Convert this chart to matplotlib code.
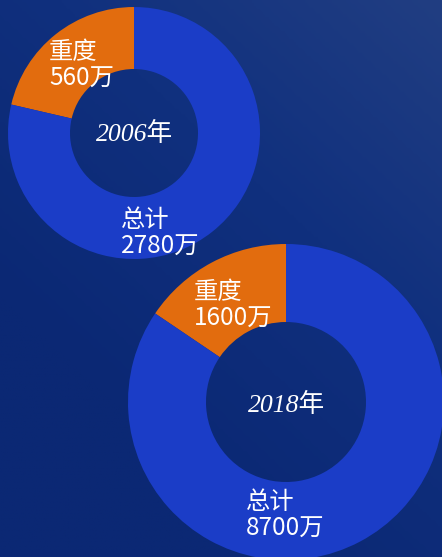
import matplotlib
matplotlib.use("Agg")
import matplotlib.pyplot as plt
import numpy as np
from matplotlib.colors import LinearSegmentedColormap

# ---- data ----
years = ["2006年", "2018年"]
severe = [560, 1600]            # 重度 (万)
total = [2780, 8700]            # 总计 (万)
slice_severe = [560, 1600]
slice_other = [2060, 8700]
label_severe = "重度"
label_total = "总计"

W, H = 442, 557
fig = plt.figure(figsize=(W / 100, H / 100), dpi=100)

# background gradient (lighter at top-right, darker at bottom-left)
bg = fig.add_axes([0, 0, 1, 1])
bg.set_axis_off()
yy, xx = np.mgrid[0:1:200j, 0:1:200j]
t = np.clip(0.55 * xx + 0.75 * yy - 0.35, 0, 1)
cmap = LinearSegmentedColormap.from_list("bg", ["#0b2874", "#10307e", "#213e82"])
bg.imshow(t, cmap=cmap, extent=[0, 1, 0, 1], origin="lower", aspect="auto")

ax = fig.add_axes([0, 0, 1, 1])
ax.set_xlim(0, W)
ax.set_ylim(0, H)
ax.set_aspect("equal")
ax.set_axis_off()
ax.patch.set_alpha(0)

orange = "#e26c0e"
blue = "#1b3dc7"
centers = [(134, H - 133), (286, H - 402)]
radii = [126, 158]
widths = [62, 78]

for i in range(2):
    ax.pie([slice_severe[i], slice_other[i]], colors=[orange, blue],
           startangle=90, counterclock=True, center=centers[i], radius=radii[i],
           wedgeprops=dict(width=widths[i], linewidth=0))

ax.set_xlim(0, W)
ax.set_ylim(0, H)

cjk = ["Noto Sans CJK SC", "DejaVu Sans"]
lab_fs = 17.5

def lbl(x, y, s):
    ax.text(x, H - y, s, color="white", fontsize=lab_fs, family=cjk,
            ha="left", va="center", linespacing=1.03)

# 2006
lbl(49, 65, f"{label_severe}\n{severe[0]}万")
lbl(121, 233, f"{label_total}\n{total[0]}万")
# 2018
lbl(194, 305, f"{label_severe}\n{severe[1]}万")
lbl(246, 515, f"{label_total}\n{total[1]}万")

serif = ["Liberation Serif", "Noto Sans CJK SC"]
ax.text(135, H - 134, years[0], color="white", fontsize=18.5, family=serif,
        style="italic", ha="center", va="center")
ax.text(287, H - 405, years[1], color="white", fontsize=18.5, family=serif,
        style="italic", ha="center", va="center")

fig.savefig("out.png", dpi=100)
